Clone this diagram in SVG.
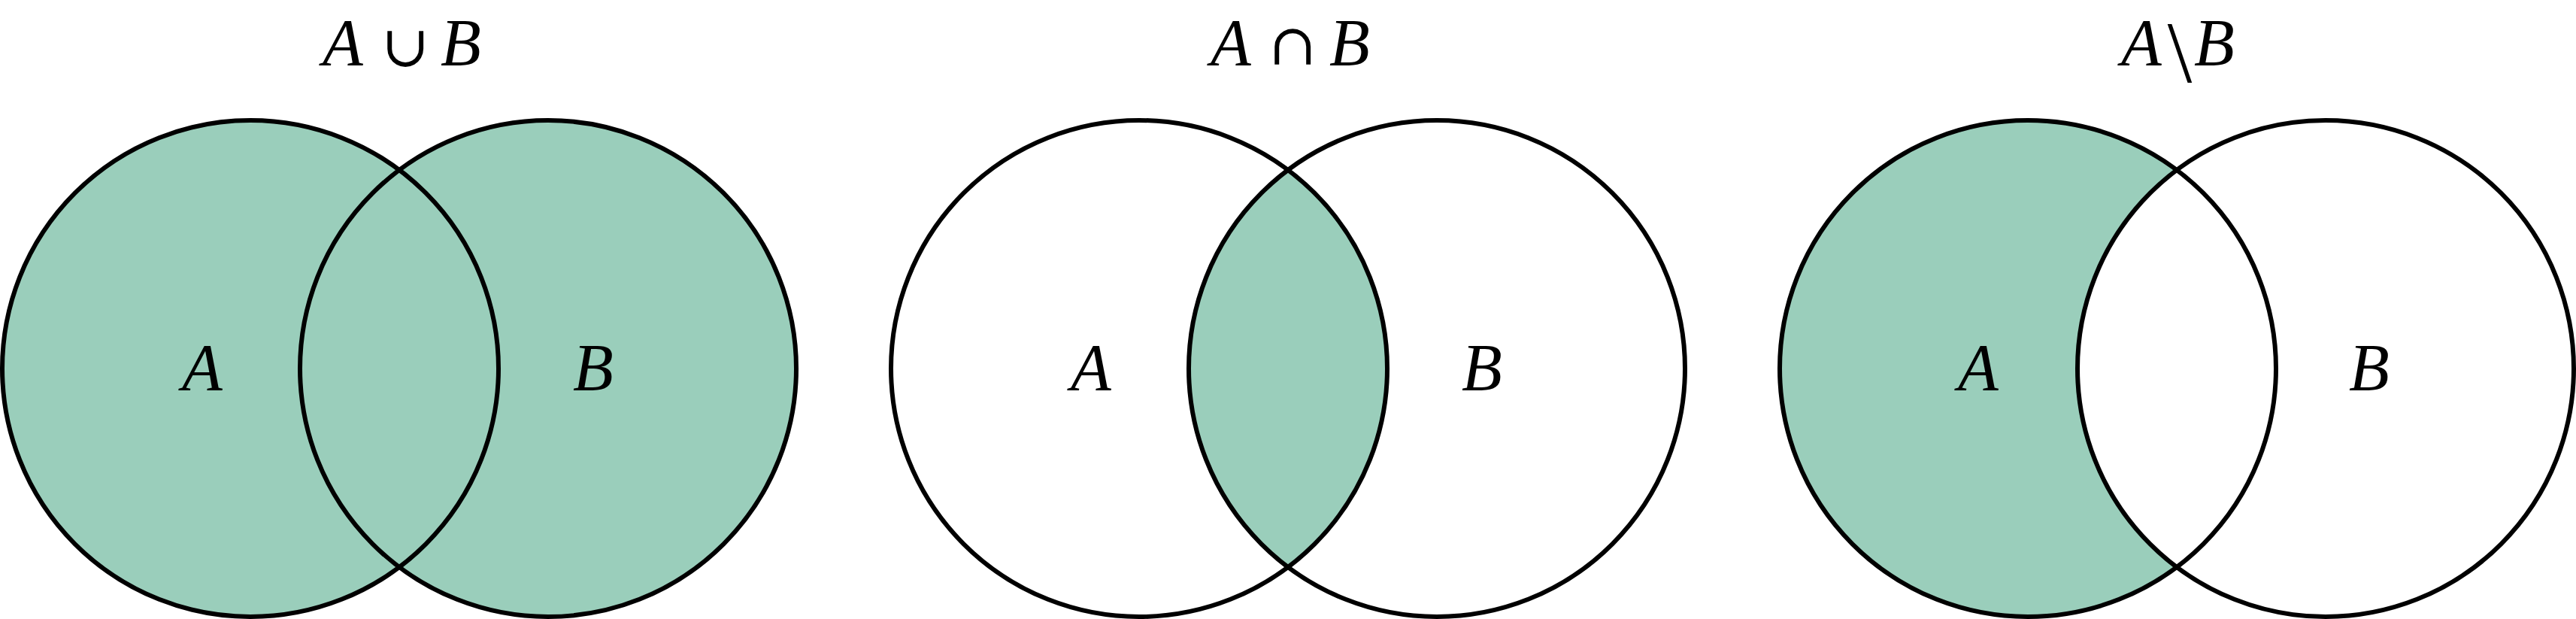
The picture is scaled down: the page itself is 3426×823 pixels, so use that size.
<svg xmlns="http://www.w3.org/2000/svg" width="3426" height="823" viewBox="0 0 3426 823">
<style>
.bg{fill:#ffffff}
.fill{fill:#9acebb;stroke:none}
.ring{fill:none;stroke:#000;stroke-width:6}
.lbl{font-family:"Liberation Serif",serif;font-style:italic;font-size:88px;fill:#000;text-anchor:middle}
.op{font-family:"DejaVu Serif",serif;font-size:76px;fill:#000;text-anchor:middle}
.bs{font-family:"Liberation Serif",serif;font-size:117px;fill:#000;text-anchor:middle}
</style>
<rect class="bg" x="0" y="0" width="3426" height="823"/>

<g id="union">
  <g id="union-fill">
    <circle class="fill" cx="333" cy="490" r="330"/>
    <circle class="fill" cx="729" cy="490" r="330"/>
  </g>
  <g id="union-A"><circle class="ring" cx="333" cy="490" r="330"/><text class="lbl" x="269" y="518">A</text></g>
  <g id="union-B"><circle class="ring" cx="729" cy="490" r="330"/><text class="lbl" x="789" y="518">B</text></g>
  <g id="union-title">
    <text class="lbl" x="456" y="86">A</text>
    <text class="op" x="539" y="88">∪</text>
    <text class="lbl" x="613" y="86">B</text>
  </g>
</g>

<g id="intersection">
  <path class="fill" d="M 1713 226 A 330 330 0 0 1 1713 754 A 330 330 0 0 1 1713 226 Z"/>
  <g id="intersection-A"><circle class="ring" cx="1515" cy="490" r="330"/><text class="lbl" x="1451" y="518">A</text></g>
  <g id="intersection-B"><circle class="ring" cx="1911" cy="490" r="330"/><text class="lbl" x="1971" y="518">B</text></g>
  <g id="intersection-title">
    <text class="lbl" x="1637" y="86">A</text>
    <text class="op" x="1719" y="86">∩</text>
    <text class="lbl" x="1795" y="86">B</text>
  </g>
</g>

<g id="difference">
  <path class="fill" d="M 2895 226 A 330 330 0 1 0 2895 754 A 330 330 0 0 1 2895 226 Z"/>
  <g id="difference-A"><circle class="ring" cx="2697" cy="490" r="330"/><text class="lbl" x="2631" y="518">A</text></g>
  <g id="difference-B"><circle class="ring" cx="3093" cy="490" r="330"/><text class="lbl" x="3151" y="518">B</text></g>
  <g id="difference-title">
    <text class="lbl" x="2848" y="86">A</text>
    <text class="bs" x="2899" y="109">\</text>
    <text class="lbl" x="2945" y="86">B</text>
  </g>
</g>
</svg>
